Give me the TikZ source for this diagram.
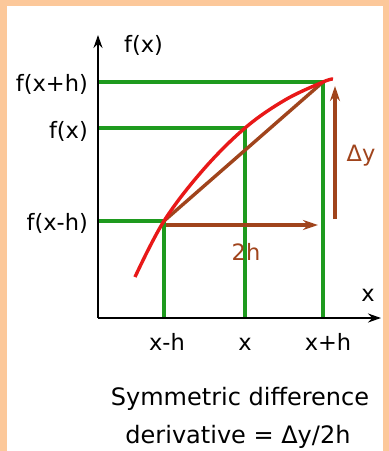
\documentclass[tikz,border=0pt]{standalone}
\usepackage{fontspec}
\setmainfont{DejaVu Sans}
\usetikzlibrary{arrows.meta}
\definecolor{peach}{HTML}{FCC89A}
\definecolor{grn}{HTML}{1E9A1E}
\definecolor{rd}{HTML}{E81818}
\definecolor{brn}{HTML}{A0441C}
\tikzset{
  lbl/.style={font=\fontsize{22.5}{26}\selectfont, inner sep=0pt},
  caption/.style={font=\fontsize{24}{28}\selectfont, inner sep=0pt},
  gline/.style={draw=grn, line width=3.4pt},
  axis/.style={draw=black, line width=2pt, -{Stealth[length=13pt,width=9pt]}},
  barrow/.style={draw=brn, line width=3.4pt, -{Stealth[length=15pt,width=10pt]}},
}
\begin{document}
\begin{tikzpicture}[x=1pt,y=-1pt]
\fill[peach] (0,0) rectangle (389,451);
\fill[white] (7,6) rectangle (383,451);
\useasboundingbox (0,0) rectangle (389,451);
% points
\coordinate (O) at (98,318);
\coordinate (A) at (164,221);
\coordinate (B) at (245,128);
\coordinate (C) at (323,82);
\coordinate (Ax) at (164,318);
\coordinate (Bx) at (245,318);
\coordinate (Cx) at (323,318);
\coordinate (Ay) at (98,221);
\coordinate (By) at (98,128);
\coordinate (Cy) at (98,82);
\coordinate (Ytop) at (98,35);
\coordinate (Xend) at (381,318);
% green guides
\draw[gline] (Ay) -- (A) -- (Ax);
\draw[gline] (By) -- (B) -- (Bx);
\draw[gline] (Cy) -- (C) -- (Cx);
% axes
\draw[axis] (O) -- (Ytop);
\draw[axis] (O) -- (Xend);
% brown secant and arrows
\draw[draw=brn, line width=3.4pt] (A) -- (C);
\coordinate (H0) at (166,225);
\coordinate (H1) at (318,225);
\draw[barrow] (H0) -- (H1);
\coordinate (V0) at (335,219);
\coordinate (V1) at (335,86);
\draw[barrow] (V0) -- (V1);
% red curve
\draw[rd, line width=3.4pt] plot[smooth, tension=0.6] coordinates {(135,277) (164,221) (203,170) (245,128) (285,100) (323,82) (333,79)};
% labels
\node[lbl, anchor=base west] (fx) at (124,52) {f(x)};
\node[lbl, anchor=base east] (lc) at (88,91) {f(x+h)};
\node[lbl, anchor=base east] (lb) at (88,138) {f(x)};
\node[lbl, anchor=base east] (la) at (88,230) {f(x-h)};
\node[lbl, anchor=base, text=brn] (dy) at (361,161) {Δy};
\node[lbl, anchor=base, text=brn] (th) at (246,260) {2h};
\node[lbl, anchor=base] (xl) at (368,301) {x};
\node[lbl, anchor=base] (ta) at (167,350) {x-h};
\node[lbl, anchor=base] (tb) at (245,350) {x};
\node[lbl, anchor=base] (tc) at (328,350) {x+h};
\node[caption, anchor=base] (cap1) at (240,405) {Symmetric difference};
\node[caption, anchor=base] (cap2) at (238,443) {derivative = Δy/2h};
\end{tikzpicture}
\end{document}
